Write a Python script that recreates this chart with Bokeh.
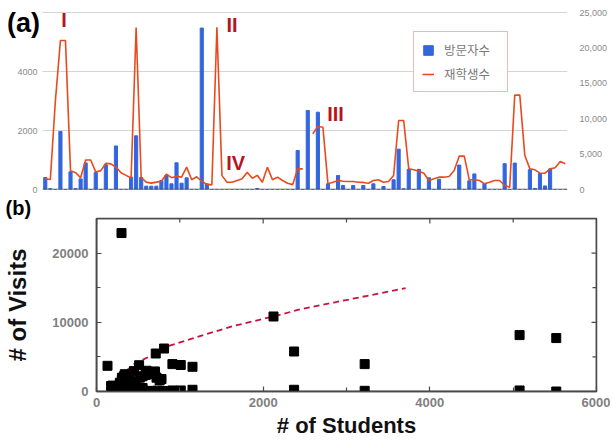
import numpy as np
from bokeh.plotting import figure
from bokeh.layouts import column
from bokeh.models import (Range1d, LinearAxis, FixedTicker, Label, Title,
                          NumeralTickFormatter, Legend, LegendItem)
from bokeh.embed import file_html
from bokeh.resources import INLINE

# ---------------- data: panel (a) ----------------
# students per category (left axis), NaN = missing
students = [360, 340, 3000, 5050, 5050, 640, 570, 400, 1000, 1000,
            590, 640, 890, 870, 760, 570, 480, 390, 5490, 400,
            250, 215, 250, 280, 520, 400, 450, 420, 757, 330,
            430, 280, 175, 158, 5500, 470, 248, 248, 305, 362,
            587, 380, 480, 248, 757, 330, 418, 305, 214, 165,
            700, 700, float("nan"), 1888, 2136, 2112, 193, 248, 305, 282,
            270, 270, 248, 240, 214, 305, 328, 248, 270, 475,
            2340, 2340, 700, 667, 621, 553, 305, 362, 418, 418,
            440, 644, 1130, 1130, 328, 328, 305, 193, 248, 305,
            305, 136, 79, 3200, 3200, 1150, 700, 667, 553, 553,
            700, 735, 950, 870]
# visits per category (right axis)
visits = [1700, 120, 0, 8200, 0, 2500, 120, 1500, 3750, 0,
          2400, 0, 3500, 0, 6150, 0, 0, 1740, 7580, 1700,
          470, 470, 470, 1270, 2000, 800, 3770, 890, 1650, 0,
          0, 22800, 800, 0, 0, 0, 0, 0, 0, 0,
          0, 0, 150, 0, 0, 0, 0, 0, 0, 0,
          5500, 0, 11160, 0, 10920, 0, 800, 0, 1980, 565,
          0, 565, 0, 565, 0, 800, 0, 420, 0, 1370,
          5700, 100, 2850, 0, 2850, 0, 1650, 0, 1450, 0,
          0, 0, 3450, 0, 1220, 2200, 0, 850, 0, 0,
          0, 3650, 0, 3730, 0, 0, 2800, 150, 2250, 500,
          2900, 0, 0, 0]
idx = list(range(len(students)))
left_ticks = [0, 2000, 4000, 6000]
right_ticks = [0, 5000, 10000, 15000, 20000, 25000]
legend_names = ["방문자수", "재학생수"]
roman = ["I", "II", "III", "IV"]
roman_x = [3.7, 37.0, 57.5, 37.7]
roman_y = [5730, 5577, 2576, 915]

# ---------------- data: panel (b) ----------------
students_b = [300, 132, 511, 711, 811, 911, 1011, 1152, 2124, 2371, 2371,
              3218, 3218, 5077, 5077, 5517, 5517,
              360, 640, 400, 590, 390, 250, 260, 240, 280, 520, 400, 420,
              757, 175, 480, 193, 305, 282, 270, 240, 305, 248, 475, 700,
              620, 305, 418, 328, 328, 193, 650, 553, 553, 700, 771,
              250, 372, 532, 651, 731, 911, 1011, 1152, 200, 450, 600, 800,
              340, 450, 600, 720, 780]
visits_b = [22900, 3710, 3800, 5490, 6210, 3960, 3830, 3570, 10840, 5780, 250,
            3960, 100, 8150, 150, 7720, 0,
            1700, 2500, 1500, 2400, 1740, 470, 470, 470, 1270, 2000, 800, 890,
            1600, 800, 150, 800, 1980, 565, 565, 565, 800, 420, 1370, 2800,
            2800, 1650, 1450, 1200, 2200, 850, 2800, 2200, 500, 2900, 1790,
            100, 80, 100, 90, 120, 150, 150, 250, 60, 50, 60, 80,
            2500, 2950, 3000, 2000, 1800]
fit_s = [132, 271, 451, 611, 811, 1251, 1651, 2124, 2452, 2850, 3250, 3710]
fit_v = [-400, 2120, 3950, 4920, 6360, 8050, 9490, 10840, 11900, 12860, 13830, 14940]
x_ticks_b = [0, 2000, 4000, 6000]
x_minor_b = [1000, 3000, 5000]
y_ticks_b = [0, 10000, 20000]
y_minor_b = [5000, 15000]
x_lim_b = (0, 6000)
y_lim_b = (0, 25000)

BAR = "#3366dd"
LINE = "#e84a1e"
DARKRED = "#b8141e"
AX = "#4a4a4a"
FONT = "Liberation Sans"
W = 610

# category domain edges (first / last category +- half a step)
cat_lo, cat_hi = -0.52, len(idx) - 0.55

# ---------------- panel (a) ----------------
p1 = figure(width=W, height=194, output_backend="svg", toolbar_location=None,
            x_range=Range1d(-8.87, cat_hi), y_range=Range1d(0, 6407),
            min_border_left=0, min_border_right=W - 579, min_border_top=0,
            min_border_bottom=5)
p1.extra_y_ranges = {"visits": Range1d(0, 26695)}
p1.outline_line_color = None
p1.xaxis.visible = False
p1.grid.visible = False

ya = p1.yaxis[0]
ya.ticker = FixedTicker(ticks=left_ticks)
ya.major_label_overrides = {6000: ""}
ya.axis_line_color = None
ya.major_tick_line_color = None
ya.minor_tick_line_color = None
ya.major_tick_in = 0
ya.major_tick_out = 0
ya.major_label_text_color = "#8a8a8a"
ya.major_label_text_font = FONT
ya.major_label_text_font_size = "9px"
ya.major_label_standoff = -37

ra = LinearAxis(y_range_name="visits", ticker=FixedTicker(ticks=right_ticks),
                formatter=NumeralTickFormatter(format="0,0"))
ra.axis_line_color = None
ra.major_tick_line_color = None
ra.minor_tick_line_color = None
ra.major_label_text_color = "#8a8a8a"
ra.major_label_text_font = FONT
ra.major_label_text_font_size = "9px"
ra.major_label_standoff = 6
p1.add_layout(ra, "right")

# horizontal gridlines over the category domain, from the left tick values
p1.segment(x0=[cat_lo] * 3, x1=[cat_hi] * 3, y0=left_ticks[1:], y1=left_ticks[1:],
           line_color="#d4d4d4", line_width=1)
bars = p1.vbar(x=idx, top=visits, width=0.62, color=BAR, y_range_name="visits")
ln = p1.line(x=idx, y=np.array(students, dtype=float), color=LINE, line_width=1.6)
p1.segment(x0=[cat_lo], x1=[cat_hi], y0=[0], y1=[0], line_color=AX, line_width=1.6)

leg = Legend(items=[LegendItem(label=legend_names[0], renderers=[bars]),
                    LegendItem(label=legend_names[1], renderers=[ln])],
             location=(413, 97))
leg.label_text_font = "Noto Sans CJK KR"
leg.label_text_font_size = "12.5px"
leg.label_text_color = "#7a7a7a"
leg.glyph_width = 12
leg.glyph_height = 12
leg.label_height = 16
leg.label_width = 55
leg.label_standoff = 10
leg.spacing = 5
leg.padding = 8
leg.margin = 0
leg.border_line_color = "#cc7a7a"
leg.border_line_width = 1.2
p1.add_layout(leg, "center")

for t, xx, yy in zip(roman, roman_x, roman_y):
    p1.add_layout(Label(x=xx, y=yy, text=t, text_align="center", text_baseline="middle",
                        text_font=FONT, text_font_style="bold", text_font_size="20px",
                        text_color=DARKRED))
p1.add_layout(Label(x=-4.3, y=5661, text="(a)", text_align="center", text_baseline="middle",
                    text_font=FONT, text_font_style="bold", text_font_size="27px",
                    text_color="black"))

# ---------------- panel (b) ----------------
FRAME_W, FRAME_H = 500, 174
p2 = figure(width=W, height=246, output_backend="svg", toolbar_location=None,
            x_range=Range1d(*x_lim_b), y_range=Range1d(*y_lim_b),
            min_border_left=96, min_border_right=W - 596, min_border_top=23,
            min_border_bottom=49)
p2.grid.visible = False
p2.outline_line_color = AX
p2.outline_line_width = 1.5

for p in (p1, p2):
    if "frame_align" in p.properties():
        p.frame_align = False


def style_axis(ax, ticks, minor):
    ax.ticker = FixedTicker(ticks=ticks, minor_ticks=minor)
    ax.axis_line_color = AX
    ax.axis_line_width = 1.5
    ax.major_tick_in = 5
    ax.major_tick_out = 0
    ax.minor_tick_in = 4
    ax.minor_tick_out = 0
    ax.major_tick_line_color = AX
    ax.minor_tick_line_color = AX
    ax.major_tick_line_width = 1.2
    ax.minor_tick_line_width = 1.2
    ax.formatter = NumeralTickFormatter(format="0")
    ax.major_label_text_font = FONT
    ax.major_label_text_font_style = "bold"
    ax.major_label_text_font_size = "13px"
    ax.major_label_text_color = "#808080"


xa = p2.xaxis[0]
style_axis(xa, x_ticks_b, x_minor_b)
xa.major_label_standoff = 6
xa.axis_label = "# of Students"
xa.axis_label_standoff = 3
xa.axis_label_text_font_size = "22px"

yb = p2.yaxis[0]
style_axis(yb, y_ticks_b, y_minor_b)
yb.major_label_standoff = 8
yb.axis_label = "# of Visits"
yb.axis_label_standoff = 18
yb.axis_label_text_font_size = "24px"

for ax in (xa, yb):
    ax.axis_label_text_font = FONT
    ax.axis_label_text_font_style = "bold"
    ax.axis_label_text_color = "#111111"

# box frame, plus inward tick marks on the top and right sides
p2.quad(left=[x_lim_b[0]], right=[x_lim_b[1]], bottom=[y_lim_b[0]], top=[y_lim_b[1]],
        fill_color=None, line_color=AX, line_width=1.5)
dy_px = (y_lim_b[1] - y_lim_b[0]) / FRAME_H
dx_px = (x_lim_b[1] - x_lim_b[0]) / FRAME_W
xt = x_ticks_b + x_minor_b
yt = y_ticks_b + y_minor_b
xlen = [(5 if t in x_ticks_b else 4) * dy_px for t in xt]
ylen = [(5 if t in y_ticks_b else 4) * dx_px for t in yt]
p2.segment(x0=xt, x1=xt, y0=[y_lim_b[1]] * len(xt),
           y1=[y_lim_b[1] - L for L in xlen], line_color=AX, line_width=1.2)
p2.segment(x0=[x_lim_b[1]] * len(yt), x1=[x_lim_b[1] - L for L in ylen],
           y0=yt, y1=yt, line_color=AX, line_width=1.2)

p2.add_layout(Title(text="(b)", align="left", offset=-91, standoff=0,
                    text_font=FONT, text_font_style="bold", text_font_size="20px",
                    text_color="black"), "above")

p2.line(x=fit_s, y=fit_v, color="#c8143c", line_width=1.8, line_dash="6 4")
p2.scatter(x=students_b, y=visits_b, marker="square", size=9, color="black")

layout = column(p1, p2, spacing=0)
open("out.html", "w").write(file_html(layout, INLINE))
